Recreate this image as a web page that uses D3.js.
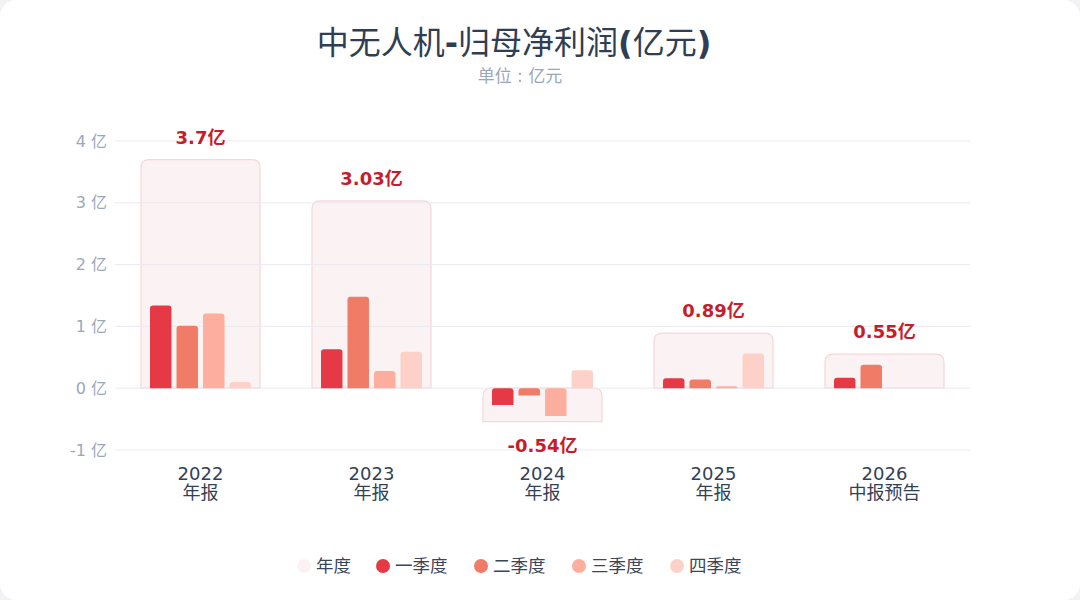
<!DOCTYPE html>
<html><head><meta charset="utf-8">
<script src="https://cdn.jsdelivr.net/npm/d3@7/dist/d3.min.js"></script>
<style>
html,body{margin:0;padding:0;background:#f2f2f4;}
svg{display:block;font-family:"DejaVu Sans","Noto Sans CJK SC",sans-serif;}
</style></head><body>
<svg id="c" width="1080" height="600"></svg>
<script>
const years = ["2022","2023","2024","2025","2026"];
const periods = ["年报","年报","年报","年报","中报预告"];
const annual = [3.7, 3.03, -0.54, 0.89, 0.55];
const q1 = [1.34, 0.63, -0.27, 0.16, 0.17];
const q2 = [1.01, 1.48, -0.12, 0.14, 0.38];
const q3 = [1.21, 0.28, -0.45, 0.03, null];
const q4 = [0.10, 0.59, 0.29, 0.56, null];
const yTicks = [-1, 0, 1, 2, 3, 4];
const seriesNames = ["一季度","二季度","三季度","四季度"];
const legendNames = ["年度","一季度","二季度","三季度","四季度"];
const qColors = ["#e63946","#f07c68","#fdae9f","#fdd1c8"];
const annualFill = "#fbf2f4";
const annualStroke = "#f6d6dc";

const svg = d3.select("#c");
svg.append("rect").attr("x",0).attr("y",0).attr("width",1080).attr("height",600).attr("rx",16).attr("fill","#ffffff");

const x = d3.scaleBand().domain(years).range([115, 970]).padding(0);
const y = d3.scaleLinear().domain([-1, 4]).range([450, 141]);

function topRounded(x0, w, yv, y0, r){
  const top = Math.min(yv, y0), bot = Math.max(yv, y0);
  const h = bot - top;
  const rr = Math.min(r, h, w/2);
  return `M${x0},${bot}V${top+rr}Q${x0},${top} ${x0+rr},${top}H${x0+w-rr}Q${x0+w},${top} ${x0+w},${top+rr}V${bot}Z`;
}

// title
const title = svg.append("text").attr("x",514).attr("y",54).attr("text-anchor","middle")
  .attr("font-size",32).attr("fill","#2f3e52").attr("font-family","'Noto Sans CJK SC','DejaVu Sans',sans-serif");
[["中无人机",400],["-",700],["归母净利润",400],["(",700],["亿元",400],[")",700]].forEach(([t,w])=>{
  title.append("tspan").attr("font-weight",w).attr("font-family", w===700?"'DejaVu Sans',sans-serif":null).text(t);
});
const sub = svg.append("text").attr("x",520).attr("y",82).attr("text-anchor","middle").attr("font-size",17)
  .attr("fill","#9aa7bb").attr("font-family","'Noto Sans CJK SC',sans-serif");
sub.append("tspan").text("单位");
sub.append("tspan").attr("font-family","'DejaVu Sans',sans-serif").text(" : ");
sub.append("tspan").text("亿元");

// annual boxes
const aw = x.bandwidth()*0.696;
svg.append("g").selectAll("path").data(years).join("path")
  .attr("d",(d,i)=>topRounded(x(d)+(x.bandwidth()-aw)/2, aw, y(annual[i]), y(0), 8))
  .attr("fill",annualFill).attr("stroke",annualStroke).attr("stroke-width",1.2);

// grid
const g = svg.append("g");
g.selectAll("line").data(yTicks).join("line")
  .attr("x1",115).attr("x2",970).attr("y1",d=>y(d)).attr("y2",d=>y(d))
  .attr("stroke","#ebe9f0").attr("stroke-width",1);

// y axis labels
const yAxis = d3.axisLeft(y).tickValues(yTicks).tickSize(0).tickPadding(0).tickFormat(d=>d+" 亿");
const ya = svg.append("g").attr("transform","translate(107,0)").call(yAxis);
ya.select(".domain").remove();
ya.selectAll("text").attr("font-size",16).attr("fill","#9aa7bb").attr("font-family","'DejaVu Sans','Noto Sans CJK SC',sans-serif");

// quarter bars
const qs = [q1,q2,q3,q4];
const inner = d3.scaleBand().domain(seriesNames).range([-50.5, 50.5]).paddingInner(0.19).paddingOuter(0);
seriesNames.forEach((s,k)=>{
  svg.append("g").selectAll("path").data(years.map((yr,i)=>({yr,v:qs[k][i]})).filter(d=>d.v!==null)).join("path")
    .attr("d",d=>topRounded(x(d.yr)+x.bandwidth()/2+inner(s), inner.bandwidth(), y(d.v), y(0), 3))
    .attr("fill",qColors[k]);
});

// value labels
svg.append("g").selectAll("text").data(years).join("text")
  .attr("x",d=>x(d)+x.bandwidth()/2)
  .attr("y",(d,i)=>annual[i]>=0 ? y(annual[i])-16 : y(annual[i])+30)
  .attr("text-anchor","middle").attr("font-size",18).attr("font-weight",700)
  .attr("fill","#c41e2d").attr("font-family","'DejaVu Sans','Noto Sans CJK SC',sans-serif")
  .text((d,i)=>annual[i]+"亿");

// category labels (two-line)
const xa = svg.append("g");
years.forEach((yr,i)=>{
  const cx = x(yr)+x.bandwidth()/2;
  const t = xa.append("text").attr("x",cx).attr("y",480).attr("text-anchor","middle").attr("font-size",18)
    .attr("fill","#334155");
  t.append("tspan").attr("x",cx).attr("font-family","'DejaVu Sans',sans-serif").text(yr);
  t.append("tspan").attr("x",cx).attr("dy",19).attr("font-family","'Noto Sans CJK SC',sans-serif").text(periods[i]);
});

// legend
const legX = [304, 383, 481, 579, 677];
const legColors = [annualFill].concat(qColors);
const lg = svg.append("g");
legendNames.forEach((n,i)=>{
  lg.append("circle").attr("cx",legX[i]).attr("cy",566).attr("r",7).attr("fill",legColors[i]);
  lg.append("text").attr("x",legX[i]+12).attr("y",572).attr("font-size",17.5).attr("fill","#3b4658")
    .attr("font-family","'Noto Sans CJK SC',sans-serif").text(n);
});
</script>
</body></html>
